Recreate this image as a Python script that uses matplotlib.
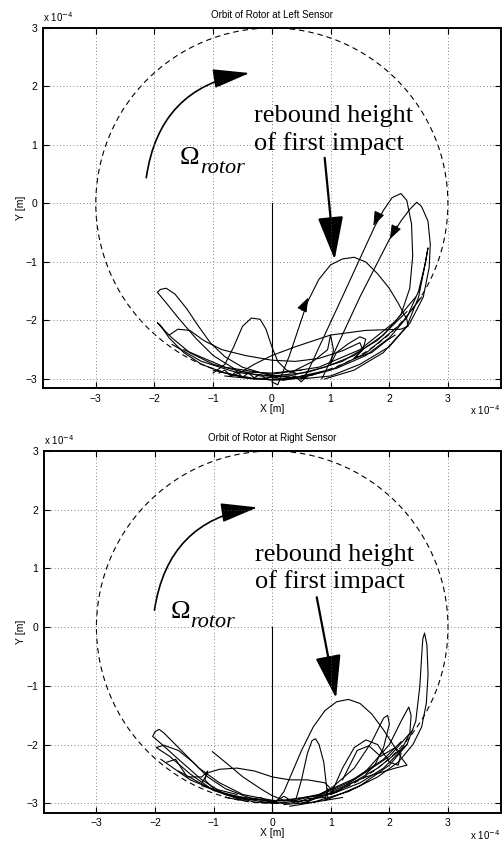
import matplotlib
matplotlib.use("Agg")
import matplotlib.pyplot as plt
from matplotlib.patches import FancyArrowPatch, Circle

plt.rcParams['font.family'] = ['Liberation Sans', 'DejaVu Sans']

# ---------------- data (units of 1e-4 m) ----------------
ticks = [-3, -2, -1, 0, 1, 2, 3]
clearance_radius = 3.0

# ---- Left sensor ----
L_drop_x = [0.0, 0.0]
L_drop_y = [0.0, -3.16]

L_tongue_x = [0.3, -0.2, -0.6, -1.0, -1.3, -1.6, -1.8, -1.95, -1.9, -1.8, -1.65, -1.45, -1.25, -1.05, -0.8, -0.5, -0.1, 0.3, 0.7]
L_tongue_y = [-2.95, -2.95, -2.85, -2.6, -2.3, -1.95, -1.7, -1.52, -1.47, -1.45, -1.55, -1.8, -2.1, -2.38, -2.62, -2.8, -2.92, -2.98, -2.93]

L_loop2_x = [0.5, 0.0, -0.5, -1.0, -1.4, -1.7, -1.9, -1.95, -1.9, -1.75, -1.5, -1.2, -0.8, -0.3, 0.2, 0.6]
L_loop2_y = [-2.85, -2.9, -2.88, -2.75, -2.55, -2.3, -2.1, -2.04, -2.08, -2.3, -2.55, -2.75, -2.9, -3.0, -3.02, -2.97]

L_hump_small_x = [-1.75, -1.6, -1.4, -1.15, -0.85, -0.45, 0.0, 0.4, 0.8, 1.2, 1.5, 1.55, 1.4]
L_hump_small_y = [-2.25, -2.15, -2.17, -2.35, -2.5, -2.6, -2.68, -2.7, -2.65, -2.52, -2.38, -2.5, -2.65]

L_hump_mid_x = [-1.0, -0.8, -0.65, -0.5, -0.35, -0.2, -0.1, 0.0, 0.1, 0.25, 0.4]
L_hump_mid_y = [-2.9, -2.75, -2.45, -2.1, -1.96, -1.98, -2.15, -2.45, -2.7, -2.85, -2.9]

L_rebound_x = [0.0, 0.1, 0.3, 0.6, 0.8, 1.0, 1.2, 1.4, 1.6, 1.8, 2.0, 2.15, 2.3, 2.32, 2.2, 1.6, 1.0, 0.4, 0.0, -0.3, -0.55, -0.7]
L_rebound_y = [-3.05, -3.1, -2.6, -1.7, -1.3, -1.05, -0.95, -0.92, -1.0, -1.2, -1.45, -1.7, -1.98, -2.1, -2.15, -2.17, -2.25, -2.45, -2.6, -2.75, -2.9, -2.95]

L_loopA_x = [-0.8, -0.3, 0.3, 0.9, 1.4, 1.9, 2.2, 2.35, 2.4, 2.38, 2.3, 2.2, 2.05, 1.9, 1.75, 1.2, 0.6, 0.5]
L_loopA_y = [-2.95, -3.0, -2.95, -2.8, -2.6, -2.25, -1.9, -1.45, -0.9, -0.35, 0.05, 0.17, 0.1, -0.12, -0.4, -1.6, -2.9, -3.0]

L_loopB_x = [0.5, 1.0, 1.5, 2.0, 2.35, 2.58, 2.68, 2.7, 2.66, 2.55, 2.47, 2.35, 2.2, 2.0, 1.5, 0.9, 0.85]
L_loopB_y = [-3.0, -2.95, -2.75, -2.45, -2.05, -1.6, -1.1, -0.7, -0.3, -0.05, 0.02, -0.1, -0.3, -0.62, -1.6, -2.9, -3.0]

L_spike_x = [0.9, 1.4, 1.9, 2.3, 2.5, 2.6, 2.66, 2.62, 2.5, 2.3, 2.0, 1.6, 1.1, 0.5]
L_spike_y = [-3.0, -2.85, -2.55, -2.1, -1.6, -1.1, -0.76, -1.0, -1.5, -1.95, -2.3, -2.6, -2.82, -2.95]

L_wiggle_x = [0.3, 0.7, 0.95, 1.0, 1.05, 1.0, 1.1, 1.3, 1.5, 1.6, 1.55, 1.4, 1.7, 1.95, 2.1]
L_wiggle_y = [-2.9, -2.7, -2.5, -2.25, -2.5, -2.75, -2.55, -2.4, -2.28, -2.32, -2.5, -2.65, -2.55, -2.35, -2.25]

L_bottom_x = [-0.9, -0.8, -0.7, -0.6, -0.5, -0.4, -0.3, -0.2, -0.1, 0.0, 0.2, 0.4, 0.5, 0.6, 0.8]
L_bottom_y = [-2.9, -2.85, -2.95, -2.87, -2.97, -2.9, -2.98, -2.92, -3.0, -2.95, -3.02, -2.95, -3.05, -2.95, -2.9]

L_band1_x = [-1.7, -1.2, -0.6, 0.0, 0.6, 1.2, 1.8, 2.3]
L_band1_y = [-2.41, -2.7, -2.89, -2.95, -2.89, -2.7, -2.34, -1.85]
L_band2_x = [-1.5, -0.8, 0.0, 0.8, 1.5, 2.1, 2.45]
L_band2_y = [-2.5, -2.8, -2.92, -2.8, -2.5, -2.02, -1.6]
L_band3_x = [-1.0, -0.5, 0.0, 0.5, 1.0, 1.6, 2.2, 2.55]
L_band3_y = [-2.85, -2.97, -3.02, -2.98, -2.85, -2.56, -2.06, -1.6]

# small direction arrows on the left-sensor orbit: (tail_x, tail_y, tip_x, tip_y)
L_dir_arrows = [(0.51, -1.83, 0.62, -1.61), (1.81, -0.21, 1.73, -0.38), (2.13, -0.38, 2.01, -0.61)]

# ---- Right sensor ----
R_drop_x = [0.0, 0.0]
R_drop_y = [0.0, -3.16]

R_tongue1_x = [0.3, -0.3, -0.8, -1.2, -1.6, -1.9, -2.04, -2.0, -1.93, -1.85, -1.7, -1.5, -1.25, -0.9, -0.5, 0.0, 0.4]
R_tongue1_y = [-3.0, -2.98, -2.85, -2.6, -2.25, -1.98, -1.86, -1.78, -1.74, -1.8, -1.95, -2.15, -2.4, -2.65, -2.85, -2.95, -2.95]

R_tongue2_x = [-0.5, -1.0, -1.4, -1.75, -1.98, -1.85, -1.6, -1.35, -1.1, -0.8, -0.4, 0.1]
R_tongue2_y = [-2.95, -2.78, -2.5, -2.2, -2.05, -2.01, -2.1, -2.3, -2.55, -2.75, -2.9, -3.0]

R_loops_x = [-1.8, -1.65, -1.55, -1.45, -1.2, -1.1, -1.15, -1.0, -0.6]
R_loops_y = [-2.3, -2.25, -2.4, -2.55, -2.55, -2.45, -2.6, -2.75, -2.85]

R_line_x = [-1.02, -0.8, -0.5, -0.2, 0.0, 0.2, 0.5]
R_line_y = [-2.12, -2.3, -2.55, -2.75, -2.87, -2.95, -2.97]

R_flat_x = [-1.2, -1.1, -0.9, -0.6, -0.3, 0.0, 0.3, 0.6, 0.9, 1.0, 0.8, 0.4]
R_flat_y = [-2.65, -2.48, -2.42, -2.4, -2.45, -2.55, -2.6, -2.6, -2.65, -2.75, -2.85, -2.95]

R_rebound_x = [0.05, 0.2, 0.35, 0.5, 0.7, 0.9, 1.1, 1.3, 1.5, 1.7, 1.9, 2.05, 2.2, 2.3, 2.1, 1.6, 1.0]
R_rebound_y = [-3.0, -2.8, -2.45, -2.1, -1.7, -1.42, -1.27, -1.23, -1.3, -1.48, -1.75, -1.98, -2.22, -2.35, -2.4, -2.55, -2.8]

R_inner_x = [0.4, 0.5, 0.6, 0.68, 0.74, 0.8, 0.88, 0.92, 0.95, 0.9]
R_inner_y = [-2.95, -2.6, -2.15, -1.93, -1.9, -2.0, -2.3, -2.65, -2.9, -2.95]

R_tall_x = [0.3, 0.9, 1.5, 2.0, 2.3, 2.45, 2.52, 2.55, 2.57, 2.6, 2.64, 2.66, 2.63, 2.55, 2.4, 2.15, 1.8, 1.3, 0.7, 0.2]
R_tall_y = [-3.05, -2.95, -2.7, -2.35, -2.0, -1.6, -1.0, -0.5, -0.2, -0.1, -0.3, -0.8, -1.3, -1.7, -2.0, -2.3, -2.55, -2.8, -2.98, -3.02]

R_spike1_x = [0.5, 1.1, 1.6, 2.0, 2.2, 2.33, 2.37, 2.35, 2.2, 1.9, 1.5, 1.0]
R_spike1_y = [-3.0, -2.8, -2.45, -2.0, -1.6, -1.36, -1.5, -1.8, -2.1, -2.4, -2.65, -2.85]

R_spike2_x = [0.6, 1.0, 1.4, 1.7, 1.9, 1.97, 2.0, 1.9, 1.75, 1.6]
R_spike2_y = [-2.98, -2.75, -2.4, -1.95, -1.55, -1.5, -1.65, -2.05, -2.35, -2.5]

R_humps_x = [1.0, 1.2, 1.4, 1.6, 1.8, 2.0, 2.15, 2.2, 2.1, 1.85, 1.65, 1.45, 1.2]
R_humps_y = [-2.85, -2.4, -2.05, -1.92, -2.0, -2.3, -2.35, -2.15, -2.05, -2.2, -2.02, -2.1, -2.6]

R_bottom_x = [-0.8, -0.5, -0.2, 0.0, 0.2, 0.4, 0.6, 0.9, 0.95, 0.9, 1.2]
R_bottom_y = [-2.9, -2.95, -2.9, -3.0, -2.88, -3.0, -2.92, -2.9, -2.75, -2.95, -2.9]

R_band1_x = [-1.9, -1.4, -0.8, 0.0, 0.8, 1.4, 2.0, 2.4]
R_band1_y = [-2.25, -2.6, -2.85, -2.97, -2.87, -2.6, -2.2, -1.75]
R_band2_x = [-1.6, -1.0, -0.4, 0.2, 0.8, 1.4, 1.9, 2.2]
R_band2_y = [-2.45, -2.78, -2.93, -2.96, -2.85, -2.58, -2.25, -1.95]
R_band3_x = [-1.2, -0.6, 0.0, 0.6, 1.2, 1.8, 2.3]
R_band3_y = [-2.7, -2.9, -3.0, -2.95, -2.75, -2.4, -2.0]

L_curves = [(L_drop_x, L_drop_y), (L_tongue_x, L_tongue_y), (L_loop2_x, L_loop2_y),
            (L_hump_small_x, L_hump_small_y), (L_hump_mid_x, L_hump_mid_y),
            (L_rebound_x, L_rebound_y), (L_loopA_x, L_loopA_y), (L_loopB_x, L_loopB_y),
            (L_spike_x, L_spike_y), (L_wiggle_x, L_wiggle_y), (L_bottom_x, L_bottom_y),
            (L_band1_x, L_band1_y), (L_band2_x, L_band2_y), (L_band3_x, L_band3_y)]
R_curves = [(R_drop_x, R_drop_y), (R_tongue1_x, R_tongue1_y), (R_tongue2_x, R_tongue2_y),
            (R_loops_x, R_loops_y), (R_line_x, R_line_y), (R_flat_x, R_flat_y),
            (R_rebound_x, R_rebound_y), (R_inner_x, R_inner_y), (R_tall_x, R_tall_y),
            (R_spike1_x, R_spike1_y), (R_spike2_x, R_spike2_y), (R_humps_x, R_humps_y),
            (R_bottom_x, R_bottom_y), (R_band1_x, R_band1_y), (R_band2_x, R_band2_y),
            (R_band3_x, R_band3_y)]

titles = ["Orbit of Rotor at Left Sensor", "Orbit of Rotor at Right Sensor"]

panels = [
    dict(curves=L_curves, arrows=L_dir_arrows,
         omega_arc=(-2.14, 0.44, -0.38, 2.23), omega_txt=(-1.57, 0.67), rotor_txt=(-1.23, 0.52),
         reb_txt=(-0.31, 0.92), reb_arrow=(0.9, 0.78, 1.07, -0.96)),
    dict(curves=R_curves, arrows=[],
         omega_arc=(-2.01, 0.29, -0.25, 2.04), omega_txt=(-1.74, 0.15), rotor_txt=(-1.41, 0.01),
         reb_txt=(-0.29, 0.66), reb_arrow=(0.76, 0.51, 1.09, -1.21)),
]

fig = plt.figure(figsize=(5.04, 8.43), dpi=100)
rects = [[0.0853, 0.5394, 0.9082, 0.4274], [0.0867, 0.0359, 0.9068, 0.4291]]

for rect, title, p in zip(rects, titles, panels):
    ax = fig.add_axes(rect)
    ax.set_xlim(-3.9, 3.9)
    ax.set_ylim(-3.16, 3.0)
    ax.set_xticks(ticks)
    ax.set_yticks(ticks)
    ax.grid(True, linestyle=(0, (1, 3)), color='0.35', linewidth=0.6)
    ax.tick_params(direction='in', length=4, width=0.8, top=True, right=True,
                   labelsize=7.5, pad=4)
    for s in ax.spines.values():
        s.set_linewidth(1.4)
    ax.set_title(title, fontsize=7, pad=7)
    ax.set_xlabel("X [m]", fontsize=7.5, labelpad=0)
    ax.set_ylabel("Y [m]", fontsize=7.5, labelpad=0)
    ax.text(0.0, 1.012, r"x 10$^{-4}$", transform=ax.transAxes, fontsize=7,
            ha='left', va='bottom')
    ax.text(0.998, -0.042, r"x 10$^{-4}$", transform=ax.transAxes, fontsize=7,
            ha='right', va='top')

    ax.add_patch(Circle((0, 0), clearance_radius, fill=False, ls=(0, (5, 3.5)),
                        lw=0.8, color='k'))
    for cx, cy in p['curves']:
        ax.plot(cx, cy, color='k', lw=0.8)
    for tx, ty, hx, hy in p['arrows']:
        ax.add_patch(FancyArrowPatch((tx, ty), (hx, hy), arrowstyle='-|>,head_length=6,head_width=2.2',
                                     mutation_scale=1.5, color='k', lw=0.6,
                                     shrinkA=0, shrinkB=0))
    sx, sy, ex, ey = p['omega_arc']
    ax.add_patch(FancyArrowPatch((sx, sy), (ex, ey), connectionstyle='arc3,rad=-0.37',
                                 arrowstyle='-|>,head_length=2.3,head_width=0.6',
                                 mutation_scale=10, color='k', lw=1.2,
                                 shrinkA=0, shrinkB=0))
    ax.text(*p['omega_txt'], "Ω", family=['Liberation Serif'], fontsize=19,
            ha='left', va='baseline')
    ax.text(*p['rotor_txt'], "rotor", family=['Liberation Serif'], style='italic',
            fontsize=16, ha='left', va='baseline')
    ax.text(*p['reb_txt'], "rebound height\nof first impact", family=['Liberation Serif'],
            fontsize=19, ha='left', va='baseline', linespacing=1.25)
    sx, sy, ex, ey = p['reb_arrow']
    ax.add_patch(FancyArrowPatch((sx, sy), (ex, ey),
                                 arrowstyle='-|>,head_length=2.7,head_width=0.8',
                                 mutation_scale=10, color='k', lw=1.6,
                                 shrinkA=0, shrinkB=0))

fig.savefig("out.png", dpi=100)
